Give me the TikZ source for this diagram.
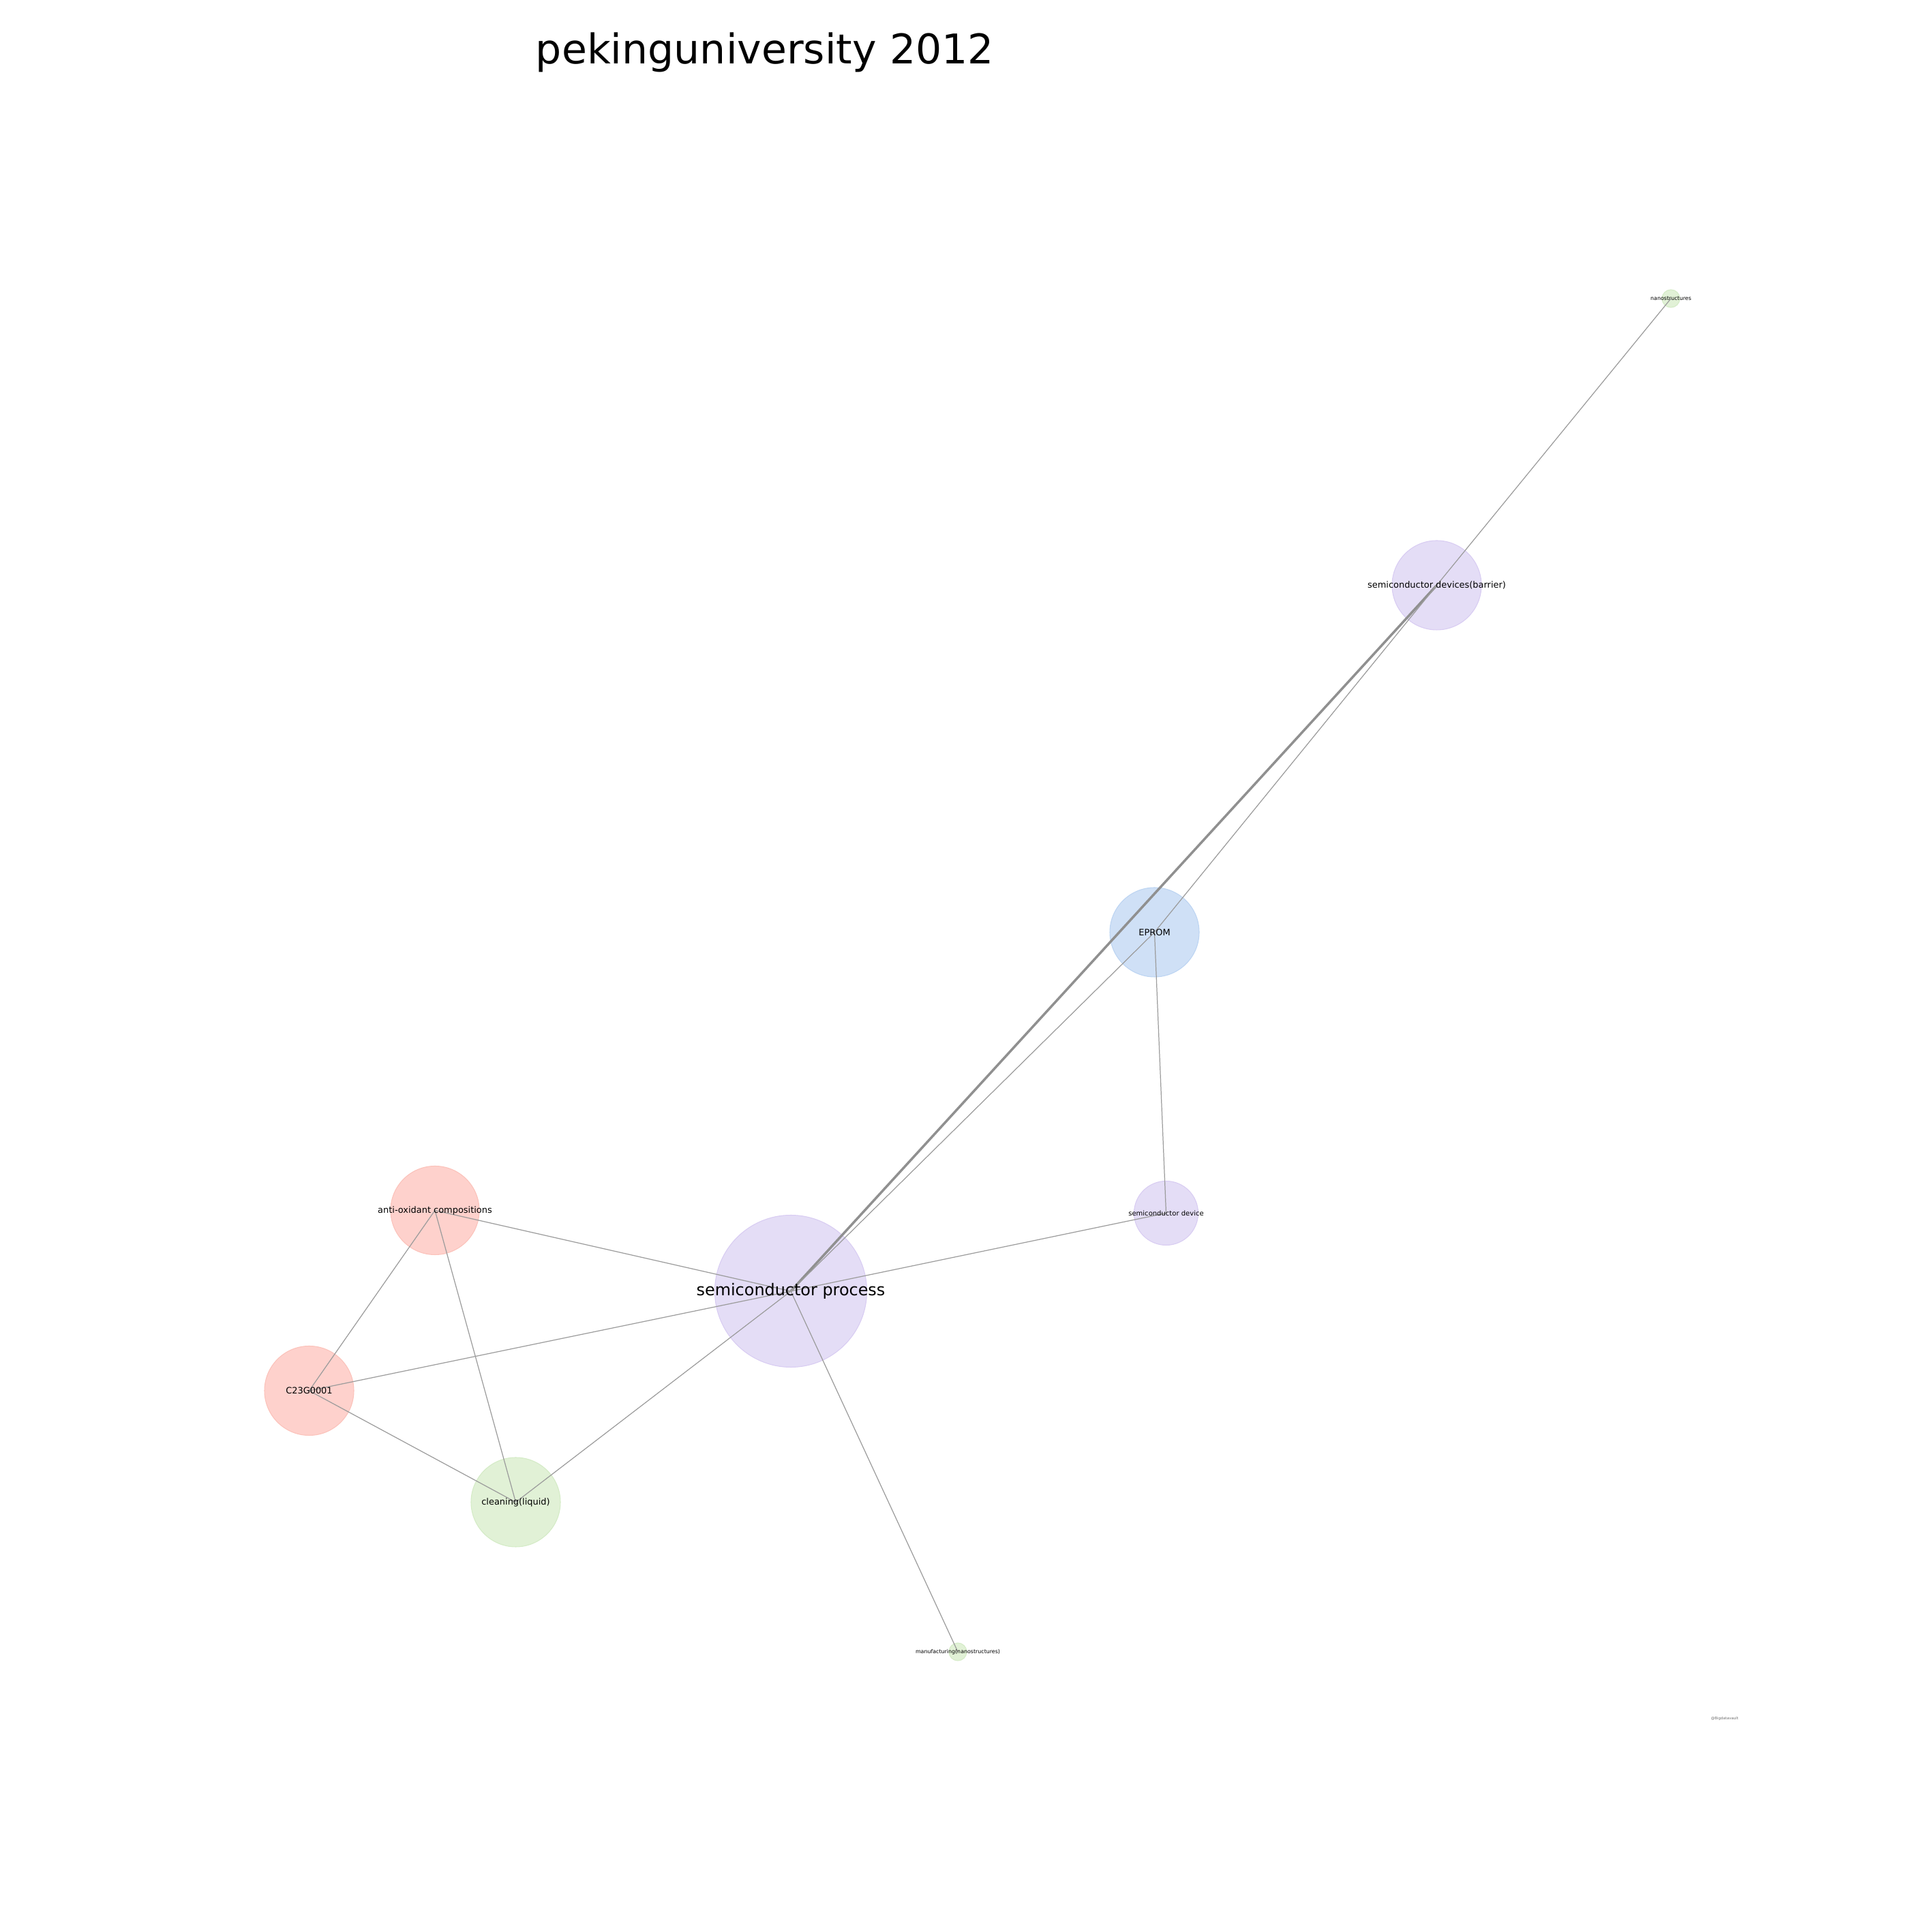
\documentclass[tikz,border=0pt]{standalone}
\usepackage{fontspec}
\setmainfont{DejaVu Sans}
\usepackage{xcolor}
\definecolor{topic-purple}{HTML}{E4DDF6}
\definecolor{topic-purple-rim}{HTML}{D8CCF2}
\definecolor{topic-blue}{HTML}{CFE0F6}
\definecolor{topic-blue-rim}{HTML}{BCD4F2}
\definecolor{topic-red}{HTML}{FED1CC}
\definecolor{topic-red-rim}{HTML}{FBC2BA}
\definecolor{topic-green}{HTML}{E1F1D6}
\definecolor{topic-green-rim}{HTML}{D4EBC6}
\definecolor{link-grey}{HTML}{9C9C9C}
\definecolor{mark-grey}{HTML}{707070}
\usepackage{tikz}

\begin{document}
\begin{tikzpicture}[
    topic/.style={circle, inner sep=0pt, minimum size=#1, line width=0.3pt},
    purple/.style={fill=topic-purple, draw=topic-purple-rim},
    blue/.style={fill=topic-blue, draw=topic-blue-rim},
    red/.style={fill=topic-red, draw=topic-red-rim},
    green/.style={fill=topic-green, draw=topic-green-rim},
    link/.style={draw=link-grey, line width=0.35pt},
    biglink/.style={draw=link-grey!92!black, line width=1.0pt},
    bigtext/.style={font=\fontsize{6.8pt}{8pt}\selectfont},
    midtext/.style={font=\fontsize{3.68pt}{4.4pt}\selectfont},
    smalltext/.style={font=\fontsize{2.25pt}{2.7pt}\selectfont},
    tinytext/.style={font=\fontsize{1.55pt}{1.9pt}\selectfont, text=mark-grey}
]

    % Page
    \useasboundingbox (0, 0) rectangle (28.34, 28.34);

    % Title
    \node[anchor=base, font=\fontsize{17.1pt}{20pt}\selectfont] (title) at (11.22, 27.40) {pekinguniversity 2012};

    % Topics
    \node[topic=2.23cm, purple] (process) at (11.60, 9.40) {};
    \node[topic=1.31cm, purple] (barrier) at (21.075, 19.755) {};
    \node[topic=1.31cm, blue] (eprom) at (16.935, 14.665) {};
    \node[topic=0.94cm, purple] (device) at (17.105, 10.545) {};
    \node[topic=1.30cm, red] (antiox) at (6.38, 10.585) {};
    \node[topic=1.31cm, red] (ctwo) at (4.535, 7.94) {};
    \node[topic=1.31cm, green] (cleaning) at (7.565, 6.305) {};
    \node[topic=0.26cm, green] (manufact) at (14.05, 4.11) {};
    \node[topic=0.26cm, green] (nano) at (24.51, 23.96) {};

    % Links
    \draw[biglink] (process.center) -- (barrier.center);
    \draw[link] (process.center) -- (eprom.center);
    \draw[link] (process.center) -- (device.center);
    \draw[link] (process.center) -- (antiox.center);
    \draw[link] (process.center) -- (ctwo.center);
    \draw[link] (process.center) -- (cleaning.center);
    \draw[link] (process.center) -- (manufact.center);
    \draw[link] (eprom.center) -- (device.center);
    \draw[link] (eprom.center) -- (barrier.center);
    \draw[link] (barrier.center) -- (nano.center);
    \draw[link] (antiox.center) -- (ctwo.center);
    \draw[link] (antiox.center) -- (cleaning.center);
    \draw[link] (ctwo.center) -- (cleaning.center);

    % Labels
    \node[bigtext] (process-lbl) at (process) {semiconductor process};
    \node[midtext] (barrier-lbl) at (barrier) {semiconductor devices(barrier)};
    \node[midtext] (eprom-lbl) at (eprom) {EPROM};
    \node[smalltext, font=\fontsize{2.85pt}{3.4pt}\selectfont] (device-lbl) at (device) {semiconductor device};
    \node[midtext] (antiox-lbl) at (antiox) {anti-oxidant compositions};
    \node[midtext] (ctwo-lbl) at (ctwo) {C23G0001};
    \node[midtext] (cleaning-lbl) at (cleaning) {cleaning(liquid)};
    \node[smalltext] (manufact-lbl) at (manufact) {manufacturing(nanostructures)};
    \node[smalltext] (nano-lbl) at (nano) {nanostructures};

    % Watermark
    \node[tinytext] (mark) at (25.30, 3.13) {@Bigdatavault};

\end{tikzpicture}
\end{document}
